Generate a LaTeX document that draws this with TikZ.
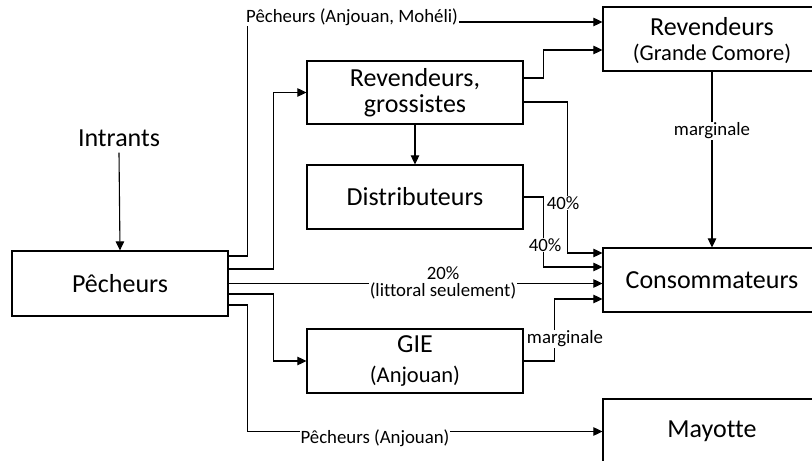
\documentclass[tikz,border=0pt]{standalone}
\usepackage{fontspec}
\setmainfont{Carlito}[Ligatures=NoCommon]
\usetikzlibrary{arrows.meta,calc}
\begin{document}
\begin{tikzpicture}[x=1bp,y=-1bp,
  box/.style={draw,line width=1.2bp,rectangle,inner sep=0pt,align=center,
    font=\fontsize{26bp}{26bp}\selectfont},
  arr/.style={line width=1.1bp,-{Triangle[length=9bp,width=8.5bp]}},
  lbl/.style={fill=white,inner sep=1bp,align=center,
    font=\fontsize{18.8bp}{17bp}\selectfont}]
\useasboundingbox (0,0) rectangle (812,461);
\clip (0,0) rectangle (812,461);
\fill[white] (0,0) rectangle (812,461);

% boxes
\node[box,minimum width=216bp,minimum height=65bp] (pech) at (120,283.5) {Pêcheurs};
\node[box,minimum width=216bp,minimum height=63bp] (rg) at (415,92.5) {Revendeurs,\\grossistes};
\node[box,minimum width=216bp,minimum height=64bp] (dist) at (415,197) {Distributeurs};
\node[box,minimum width=216bp,minimum height=64bp] (gie) at (415,361)
  {GIE\\[4bp]{\fontsize{22.5bp}{22.5bp}\selectfont (Anjouan)}};
\node[box,minimum width=218bp,minimum height=64bp] (gc) at (712,39) {};
\node[align=center,inner sep=0pt,font=\fontsize{26bp}{26bp}\selectfont] (gct) at (712,41)
  {Revendeurs\\[-1bp]{\fontsize{22.5bp}{22.5bp}\selectfont (Grande Comore)}};
\node[box,minimum width=218bp,minimum height=64bp] (cons) at (712,280) {Consommateurs};
\node[box,minimum width=218bp,minimum height=65bp] (may) at (712,431.5) {Mayotte};
\node[font=\fontsize{26bp}{26bp}\selectfont,inner sep=0pt] (intr) at (119,138) {Intrants};

% connectors
\draw[arr] ([yshift=-6bp]intr.south) -- (pech.north);
\draw[arr] ([yshift=27.5bp]pech.east) -- ++(19,0) |- ([yshift=17bp]gc.west);
\draw[arr] ([yshift=14.5bp]pech.east) -- ++(45,0) |- (rg.west);
\draw[arr] (pech.east) -- (pech.east -| cons.west);
\draw[arr] ([yshift=-10.5bp]pech.east) -- ++(45,0) |- (gie.west);
\draw[arr] ([yshift=-21.5bp]pech.east) -- ++(19,0) |- (may.west);
\draw[arr] ([yshift=14.5bp]rg.east) -- ++(20,0) |- ([yshift=-11bp]gc.west);
\draw[arr] ([yshift=-9.5bp]rg.east) -- ++(44,0) |- ([yshift=27bp]cons.west);
\draw[arr] (rg.south) -- (dist.north);
\draw[arr] (dist.east) -- ++(20,0) |- ([yshift=13bp]cons.west);
\draw[arr] (gie.east) -- ++(31,0) |- ([yshift=-19bp]cons.west);
\draw[arr] (gc.south) -- (cons.north);

% flow labels
\node[lbl,anchor=west] (l1) at (245,17) {Pêcheurs (Anjouan, Mohéli)};
\node[lbl] (l2) at (443,283) {20\%\\(littoral seulement)};
\node[lbl] (l3) at (375,438) {Pêcheurs (Anjouan)};
\node[lbl] (l4) at (563,203) {40\%};
\node[lbl] (l5) at (545,245) {40\%};
\node[lbl] (l6) at (565,339) {marginale};
\node[lbl] (l7) at (712,131) {marginale};
\end{tikzpicture}
\end{document}
